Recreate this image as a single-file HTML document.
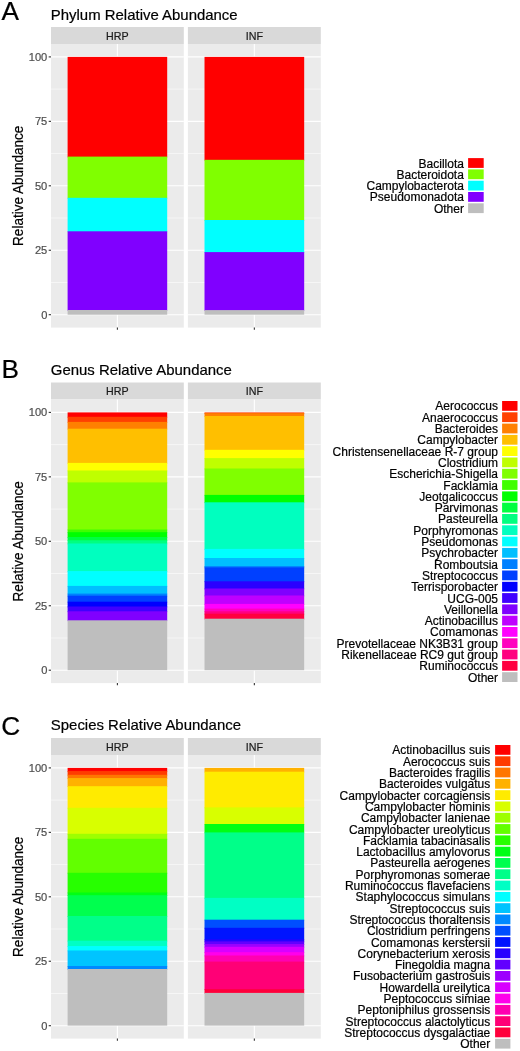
<!DOCTYPE html>
<html><head><meta charset="utf-8"><style>
html,body{margin:0;padding:0;background:#fff;}
svg{display:block;will-change:transform;font-family:"Liberation Sans",sans-serif;}
text{stroke-width:0.2px;paint-order:stroke;}
</style></head><body>
<svg width="520" height="1051" viewBox="0 0 520 1051">
<rect width="520" height="1051" fill="#fff"/>
<text x="1.4" y="19.9" font-size="26.2" fill="#000" stroke="#000">A</text>
<text x="50.8" y="19.6" font-size="14.95" fill="#000" stroke="#000">Phylum Relative Abundance</text>
<rect x="51" y="27" width="132.8" height="17" fill="#D9D9D9"/>
<text x="117.4" y="39.6" font-size="10.7" fill="#1A1A1A" stroke="#1A1A1A" text-anchor="middle">HRP</text>
<rect x="51" y="44" width="132.8" height="283.6" fill="#EBEBEB"/>
<line x1="51" x2="183.8" y1="282.47" y2="282.47" stroke="#fff" stroke-width="0.55"/>
<line x1="51" x2="183.8" y1="218.02" y2="218.02" stroke="#fff" stroke-width="0.55"/>
<line x1="51" x2="183.8" y1="153.57" y2="153.57" stroke="#fff" stroke-width="0.55"/>
<line x1="51" x2="183.8" y1="89.12" y2="89.12" stroke="#fff" stroke-width="0.55"/>
<line x1="51" x2="183.8" y1="314.7" y2="314.7" stroke="#fff" stroke-width="1.1"/>
<line x1="51" x2="183.8" y1="250.25" y2="250.25" stroke="#fff" stroke-width="1.1"/>
<line x1="51" x2="183.8" y1="185.8" y2="185.8" stroke="#fff" stroke-width="1.1"/>
<line x1="51" x2="183.8" y1="121.35" y2="121.35" stroke="#fff" stroke-width="1.1"/>
<line x1="51" x2="183.8" y1="56.9" y2="56.9" stroke="#fff" stroke-width="1.1"/>
<line x1="117.4" x2="117.4" y1="44" y2="327.6" stroke="#fff" stroke-width="1.1"/>
<rect x="67.6" y="56.9" width="99.6" height="100.5" fill="#FF0000"/>
<rect x="67.6" y="156.6" width="99.6" height="42" fill="#80FF00"/>
<rect x="67.6" y="197.8" width="99.6" height="34.3" fill="#00FFFF"/>
<rect x="67.6" y="231.3" width="99.6" height="79.5" fill="#8000FF"/>
<rect x="67.6" y="310" width="99.6" height="4.7" fill="#BEBEBE"/>
<line x1="117.4" x2="117.4" y1="327.6" y2="329.8" stroke="#333" stroke-width="1.1"/>
<rect x="187.9" y="27" width="132.9" height="17" fill="#D9D9D9"/>
<text x="254.35" y="39.6" font-size="10.7" fill="#1A1A1A" stroke="#1A1A1A" text-anchor="middle">INF</text>
<rect x="187.9" y="44" width="132.9" height="283.6" fill="#EBEBEB"/>
<line x1="187.9" x2="320.8" y1="282.47" y2="282.47" stroke="#fff" stroke-width="0.55"/>
<line x1="187.9" x2="320.8" y1="218.02" y2="218.02" stroke="#fff" stroke-width="0.55"/>
<line x1="187.9" x2="320.8" y1="153.57" y2="153.57" stroke="#fff" stroke-width="0.55"/>
<line x1="187.9" x2="320.8" y1="89.12" y2="89.12" stroke="#fff" stroke-width="0.55"/>
<line x1="187.9" x2="320.8" y1="314.7" y2="314.7" stroke="#fff" stroke-width="1.1"/>
<line x1="187.9" x2="320.8" y1="250.25" y2="250.25" stroke="#fff" stroke-width="1.1"/>
<line x1="187.9" x2="320.8" y1="185.8" y2="185.8" stroke="#fff" stroke-width="1.1"/>
<line x1="187.9" x2="320.8" y1="121.35" y2="121.35" stroke="#fff" stroke-width="1.1"/>
<line x1="187.9" x2="320.8" y1="56.9" y2="56.9" stroke="#fff" stroke-width="1.1"/>
<line x1="254.35" x2="254.35" y1="44" y2="327.6" stroke="#fff" stroke-width="1.1"/>
<rect x="204.51" y="56.9" width="99.68" height="103.7" fill="#FF0000"/>
<rect x="204.51" y="159.8" width="99.68" height="61" fill="#80FF00"/>
<rect x="204.51" y="220" width="99.68" height="32.9" fill="#00FFFF"/>
<rect x="204.51" y="252.1" width="99.68" height="58.8" fill="#8000FF"/>
<rect x="204.51" y="310.1" width="99.68" height="4.6" fill="#BEBEBE"/>
<line x1="254.35" x2="254.35" y1="327.6" y2="329.8" stroke="#333" stroke-width="1.1"/>
<line x1="48.7" x2="51" y1="314.7" y2="314.7" stroke="#333" stroke-width="1.1"/>
<text x="47.3" y="318.55" font-size="11.1" fill="#4D4D4D" stroke="#4D4D4D" text-anchor="end">0</text>
<line x1="48.7" x2="51" y1="250.25" y2="250.25" stroke="#333" stroke-width="1.1"/>
<text x="47.3" y="254.1" font-size="11.1" fill="#4D4D4D" stroke="#4D4D4D" text-anchor="end">25</text>
<line x1="48.7" x2="51" y1="185.8" y2="185.8" stroke="#333" stroke-width="1.1"/>
<text x="47.3" y="189.65" font-size="11.1" fill="#4D4D4D" stroke="#4D4D4D" text-anchor="end">50</text>
<line x1="48.7" x2="51" y1="121.35" y2="121.35" stroke="#333" stroke-width="1.1"/>
<text x="47.3" y="125.2" font-size="11.1" fill="#4D4D4D" stroke="#4D4D4D" text-anchor="end">75</text>
<line x1="48.7" x2="51" y1="56.9" y2="56.9" stroke="#333" stroke-width="1.1"/>
<text x="47.3" y="60.75" font-size="11.1" fill="#4D4D4D" stroke="#4D4D4D" text-anchor="end">100</text>
<text transform="translate(23.1,185.8) rotate(-90)" font-size="14.4" fill="#000" stroke="#000" text-anchor="middle" textLength="120.2" lengthAdjust="spacingAndGlyphs">Relative Abundance</text>
<rect x="468.1" y="158.1" width="15.6" height="9.8" fill="#FF0000"/>
<text x="463.9" y="167.5" font-size="12" fill="#000" stroke="#000" text-anchor="end">Bacillota</text>
<rect x="468.1" y="169.4" width="15.6" height="9.8" fill="#80FF00"/>
<text x="463.9" y="178.8" font-size="12" fill="#000" stroke="#000" text-anchor="end">Bacteroidota</text>
<rect x="468.1" y="180.7" width="15.6" height="9.8" fill="#00FFFF"/>
<text x="463.9" y="190.1" font-size="12" fill="#000" stroke="#000" text-anchor="end">Campylobacterota</text>
<rect x="468.1" y="192" width="15.6" height="9.8" fill="#8000FF"/>
<text x="463.9" y="201.4" font-size="12" fill="#000" stroke="#000" text-anchor="end">Pseudomonadota</text>
<rect x="468.1" y="203.3" width="15.6" height="9.8" fill="#BEBEBE"/>
<text x="463.9" y="212.7" font-size="12" fill="#000" stroke="#000" text-anchor="end">Other</text>
<text x="1.6" y="377.7" font-size="26.2" fill="#000" stroke="#000">B</text>
<text x="50.8" y="374.6" font-size="14.95" fill="#000" stroke="#000">Genus Relative Abundance</text>
<rect x="51" y="382.5" width="132.8" height="17" fill="#D9D9D9"/>
<text x="117.4" y="395.1" font-size="10.7" fill="#1A1A1A" stroke="#1A1A1A" text-anchor="middle">HRP</text>
<rect x="51" y="399.5" width="132.8" height="283.6" fill="#EBEBEB"/>
<line x1="51" x2="183.8" y1="637.98" y2="637.98" stroke="#fff" stroke-width="0.55"/>
<line x1="51" x2="183.8" y1="573.52" y2="573.52" stroke="#fff" stroke-width="0.55"/>
<line x1="51" x2="183.8" y1="509.07" y2="509.07" stroke="#fff" stroke-width="0.55"/>
<line x1="51" x2="183.8" y1="444.62" y2="444.62" stroke="#fff" stroke-width="0.55"/>
<line x1="51" x2="183.8" y1="670.2" y2="670.2" stroke="#fff" stroke-width="1.1"/>
<line x1="51" x2="183.8" y1="605.75" y2="605.75" stroke="#fff" stroke-width="1.1"/>
<line x1="51" x2="183.8" y1="541.3" y2="541.3" stroke="#fff" stroke-width="1.1"/>
<line x1="51" x2="183.8" y1="476.85" y2="476.85" stroke="#fff" stroke-width="1.1"/>
<line x1="51" x2="183.8" y1="412.4" y2="412.4" stroke="#fff" stroke-width="1.1"/>
<line x1="117.4" x2="117.4" y1="399.5" y2="683.1" stroke="#fff" stroke-width="1.1"/>
<rect x="67.6" y="412.4" width="99.6" height="5.2" fill="#FF0000"/>
<rect x="67.6" y="416.8" width="99.6" height="5.9" fill="#FF4000"/>
<rect x="67.6" y="421.9" width="99.6" height="7.6" fill="#FF8000"/>
<rect x="67.6" y="428.7" width="99.6" height="35" fill="#FFBF00"/>
<rect x="67.6" y="462.9" width="99.6" height="8.4" fill="#FFFF00"/>
<rect x="67.6" y="470.5" width="99.6" height="12.7" fill="#BFFF00"/>
<rect x="67.6" y="482.4" width="99.6" height="47.9" fill="#80FF00"/>
<rect x="67.6" y="529.5" width="99.6" height="3.5" fill="#40FF00"/>
<rect x="67.6" y="532.2" width="99.6" height="5.6" fill="#00FF00"/>
<rect x="67.6" y="537" width="99.6" height="4.1" fill="#00FF40"/>
<rect x="67.6" y="540.3" width="99.6" height="4" fill="#00FF80"/>
<rect x="67.6" y="543.5" width="99.6" height="28.4" fill="#00FFBF"/>
<rect x="67.6" y="571.1" width="99.6" height="15.6" fill="#00FFFF"/>
<rect x="67.6" y="585.9" width="99.6" height="8.5" fill="#00BFFF"/>
<rect x="67.6" y="593.6" width="99.6" height="2.9" fill="#0080FF"/>
<rect x="67.6" y="595.7" width="99.6" height="6.8" fill="#0040FF"/>
<rect x="67.6" y="601.7" width="99.6" height="5.6" fill="#0000FF"/>
<rect x="67.6" y="606.5" width="99.6" height="5.6" fill="#4000FF"/>
<rect x="67.6" y="611.3" width="99.6" height="9.8" fill="#8000FF"/>
<rect x="67.6" y="620.3" width="99.6" height="49.9" fill="#BEBEBE"/>
<line x1="117.4" x2="117.4" y1="683.1" y2="685.3" stroke="#333" stroke-width="1.1"/>
<rect x="187.9" y="382.5" width="132.9" height="17" fill="#D9D9D9"/>
<text x="254.35" y="395.1" font-size="10.7" fill="#1A1A1A" stroke="#1A1A1A" text-anchor="middle">INF</text>
<rect x="187.9" y="399.5" width="132.9" height="283.6" fill="#EBEBEB"/>
<line x1="187.9" x2="320.8" y1="637.98" y2="637.98" stroke="#fff" stroke-width="0.55"/>
<line x1="187.9" x2="320.8" y1="573.52" y2="573.52" stroke="#fff" stroke-width="0.55"/>
<line x1="187.9" x2="320.8" y1="509.07" y2="509.07" stroke="#fff" stroke-width="0.55"/>
<line x1="187.9" x2="320.8" y1="444.62" y2="444.62" stroke="#fff" stroke-width="0.55"/>
<line x1="187.9" x2="320.8" y1="670.2" y2="670.2" stroke="#fff" stroke-width="1.1"/>
<line x1="187.9" x2="320.8" y1="605.75" y2="605.75" stroke="#fff" stroke-width="1.1"/>
<line x1="187.9" x2="320.8" y1="541.3" y2="541.3" stroke="#fff" stroke-width="1.1"/>
<line x1="187.9" x2="320.8" y1="476.85" y2="476.85" stroke="#fff" stroke-width="1.1"/>
<line x1="187.9" x2="320.8" y1="412.4" y2="412.4" stroke="#fff" stroke-width="1.1"/>
<line x1="254.35" x2="254.35" y1="399.5" y2="683.1" stroke="#fff" stroke-width="1.1"/>
<rect x="204.51" y="412.4" width="99.68" height="1.6" fill="#FF4000"/>
<rect x="204.51" y="413.2" width="99.68" height="3.6" fill="#FF8000"/>
<rect x="204.51" y="416" width="99.68" height="34.6" fill="#FFBF00"/>
<rect x="204.51" y="449.8" width="99.68" height="9.1" fill="#FFFF00"/>
<rect x="204.51" y="458.1" width="99.68" height="11.2" fill="#BFFF00"/>
<rect x="204.51" y="468.5" width="99.68" height="27.2" fill="#80FF00"/>
<rect x="204.51" y="494.9" width="99.68" height="8.2" fill="#00FF00"/>
<rect x="204.51" y="502.3" width="99.68" height="47.4" fill="#00FFBF"/>
<rect x="204.51" y="548.9" width="99.68" height="9.9" fill="#00FFFF"/>
<rect x="204.51" y="558" width="99.68" height="8.9" fill="#00BFFF"/>
<rect x="204.51" y="566.1" width="99.68" height="2.1" fill="#0080FF"/>
<rect x="204.51" y="567.4" width="99.68" height="14.7" fill="#0040FF"/>
<rect x="204.51" y="581.3" width="99.68" height="8" fill="#2A00FF"/>
<rect x="204.51" y="588.5" width="99.68" height="7.8" fill="#8000FF"/>
<rect x="204.51" y="595.5" width="99.68" height="9.2" fill="#BF00FF"/>
<rect x="204.51" y="603.9" width="99.68" height="5.5" fill="#FF00FF"/>
<rect x="204.51" y="608.6" width="99.68" height="3.5" fill="#FF00BF"/>
<rect x="204.51" y="611.3" width="99.68" height="3.2" fill="#FF0080"/>
<rect x="204.51" y="613.7" width="99.68" height="5.8" fill="#FF0040"/>
<rect x="204.51" y="618.7" width="99.68" height="51.5" fill="#BEBEBE"/>
<line x1="254.35" x2="254.35" y1="683.1" y2="685.3" stroke="#333" stroke-width="1.1"/>
<line x1="48.7" x2="51" y1="670.2" y2="670.2" stroke="#333" stroke-width="1.1"/>
<text x="47.3" y="674.05" font-size="11.1" fill="#4D4D4D" stroke="#4D4D4D" text-anchor="end">0</text>
<line x1="48.7" x2="51" y1="605.75" y2="605.75" stroke="#333" stroke-width="1.1"/>
<text x="47.3" y="609.6" font-size="11.1" fill="#4D4D4D" stroke="#4D4D4D" text-anchor="end">25</text>
<line x1="48.7" x2="51" y1="541.3" y2="541.3" stroke="#333" stroke-width="1.1"/>
<text x="47.3" y="545.15" font-size="11.1" fill="#4D4D4D" stroke="#4D4D4D" text-anchor="end">50</text>
<line x1="48.7" x2="51" y1="476.85" y2="476.85" stroke="#333" stroke-width="1.1"/>
<text x="47.3" y="480.7" font-size="11.1" fill="#4D4D4D" stroke="#4D4D4D" text-anchor="end">75</text>
<line x1="48.7" x2="51" y1="412.4" y2="412.4" stroke="#333" stroke-width="1.1"/>
<text x="47.3" y="416.25" font-size="11.1" fill="#4D4D4D" stroke="#4D4D4D" text-anchor="end">100</text>
<text transform="translate(23.1,541.3) rotate(-90)" font-size="14.4" fill="#000" stroke="#000" text-anchor="middle" textLength="120.2" lengthAdjust="spacingAndGlyphs">Relative Abundance</text>
<rect x="502.1" y="401" width="15.4" height="9.8" fill="#FF0000"/>
<text x="498" y="410.4" font-size="12" fill="#000" stroke="#000" text-anchor="end">Aerococcus</text>
<rect x="502.1" y="412.3" width="15.4" height="9.8" fill="#FF4000"/>
<text x="498" y="421.7" font-size="12" fill="#000" stroke="#000" text-anchor="end">Anaerococcus</text>
<rect x="502.1" y="423.6" width="15.4" height="9.8" fill="#FF8000"/>
<text x="498" y="433" font-size="12" fill="#000" stroke="#000" text-anchor="end">Bacteroides</text>
<rect x="502.1" y="434.9" width="15.4" height="9.8" fill="#FFBF00"/>
<text x="498" y="444.3" font-size="12" fill="#000" stroke="#000" text-anchor="end">Campylobacter</text>
<rect x="502.1" y="446.2" width="15.4" height="9.8" fill="#FFFF00"/>
<text x="498" y="455.6" font-size="12" fill="#000" stroke="#000" text-anchor="end">Christensenellaceae R-7 group</text>
<rect x="502.1" y="457.5" width="15.4" height="9.8" fill="#BFFF00"/>
<text x="498" y="466.9" font-size="12" fill="#000" stroke="#000" text-anchor="end">Clostridium</text>
<rect x="502.1" y="468.8" width="15.4" height="9.8" fill="#80FF00"/>
<text x="498" y="478.2" font-size="12" fill="#000" stroke="#000" text-anchor="end">Escherichia-Shigella</text>
<rect x="502.1" y="480.1" width="15.4" height="9.8" fill="#40FF00"/>
<text x="498" y="489.5" font-size="12" fill="#000" stroke="#000" text-anchor="end">Facklamia</text>
<rect x="502.1" y="491.4" width="15.4" height="9.8" fill="#00FF00"/>
<text x="498" y="500.8" font-size="12" fill="#000" stroke="#000" text-anchor="end">Jeotgalicoccus</text>
<rect x="502.1" y="502.7" width="15.4" height="9.8" fill="#00FF40"/>
<text x="498" y="512.1" font-size="12" fill="#000" stroke="#000" text-anchor="end">Parvimonas</text>
<rect x="502.1" y="514" width="15.4" height="9.8" fill="#00FF80"/>
<text x="498" y="523.4" font-size="12" fill="#000" stroke="#000" text-anchor="end">Pasteurella</text>
<rect x="502.1" y="525.3" width="15.4" height="9.8" fill="#00FFBF"/>
<text x="498" y="534.7" font-size="12" fill="#000" stroke="#000" text-anchor="end">Porphyromonas</text>
<rect x="502.1" y="536.6" width="15.4" height="9.8" fill="#00FFFF"/>
<text x="498" y="546" font-size="12" fill="#000" stroke="#000" text-anchor="end">Pseudomonas</text>
<rect x="502.1" y="547.9" width="15.4" height="9.8" fill="#00BFFF"/>
<text x="498" y="557.3" font-size="12" fill="#000" stroke="#000" text-anchor="end">Psychrobacter</text>
<rect x="502.1" y="559.2" width="15.4" height="9.8" fill="#0080FF"/>
<text x="498" y="568.6" font-size="12" fill="#000" stroke="#000" text-anchor="end">Romboutsia</text>
<rect x="502.1" y="570.5" width="15.4" height="9.8" fill="#0040FF"/>
<text x="498" y="579.9" font-size="12" fill="#000" stroke="#000" text-anchor="end">Streptococcus</text>
<rect x="502.1" y="581.8" width="15.4" height="9.8" fill="#0000FF"/>
<text x="498" y="591.2" font-size="12" fill="#000" stroke="#000" text-anchor="end">Terrisporobacter</text>
<rect x="502.1" y="593.1" width="15.4" height="9.8" fill="#4000FF"/>
<text x="498" y="602.5" font-size="12" fill="#000" stroke="#000" text-anchor="end">UCG-005</text>
<rect x="502.1" y="604.4" width="15.4" height="9.8" fill="#8000FF"/>
<text x="498" y="613.8" font-size="12" fill="#000" stroke="#000" text-anchor="end">Veillonella</text>
<rect x="502.1" y="615.7" width="15.4" height="9.8" fill="#BF00FF"/>
<text x="498" y="625.1" font-size="12" fill="#000" stroke="#000" text-anchor="end">Actinobacillus</text>
<rect x="502.1" y="627" width="15.4" height="9.8" fill="#FF00FF"/>
<text x="498" y="636.4" font-size="12" fill="#000" stroke="#000" text-anchor="end">Comamonas</text>
<rect x="502.1" y="638.3" width="15.4" height="9.8" fill="#FF00BF"/>
<text x="498" y="647.7" font-size="12" fill="#000" stroke="#000" text-anchor="end">Prevotellaceae NK3B31 group</text>
<rect x="502.1" y="649.6" width="15.4" height="9.8" fill="#FF0080"/>
<text x="498" y="659" font-size="12" fill="#000" stroke="#000" text-anchor="end">Rikenellaceae RC9 gut group</text>
<rect x="502.1" y="660.9" width="15.4" height="9.8" fill="#FF0040"/>
<text x="498" y="670.3" font-size="12" fill="#000" stroke="#000" text-anchor="end">Ruminococcus</text>
<rect x="502.1" y="672.2" width="15.4" height="9.8" fill="#BEBEBE"/>
<text x="498" y="681.6" font-size="12" fill="#000" stroke="#000" text-anchor="end">Other</text>
<text x="1.3" y="735.3" font-size="26.2" fill="#000" stroke="#000">C</text>
<text x="50.8" y="729.6" font-size="14.95" fill="#000" stroke="#000">Species Relative Abundance</text>
<rect x="51" y="738" width="132.8" height="17" fill="#D9D9D9"/>
<text x="117.4" y="750.6" font-size="10.7" fill="#1A1A1A" stroke="#1A1A1A" text-anchor="middle">HRP</text>
<rect x="51" y="755" width="132.8" height="283.6" fill="#EBEBEB"/>
<line x1="51" x2="183.8" y1="993.48" y2="993.48" stroke="#fff" stroke-width="0.55"/>
<line x1="51" x2="183.8" y1="929.02" y2="929.02" stroke="#fff" stroke-width="0.55"/>
<line x1="51" x2="183.8" y1="864.58" y2="864.58" stroke="#fff" stroke-width="0.55"/>
<line x1="51" x2="183.8" y1="800.12" y2="800.12" stroke="#fff" stroke-width="0.55"/>
<line x1="51" x2="183.8" y1="1025.7" y2="1025.7" stroke="#fff" stroke-width="1.1"/>
<line x1="51" x2="183.8" y1="961.25" y2="961.25" stroke="#fff" stroke-width="1.1"/>
<line x1="51" x2="183.8" y1="896.8" y2="896.8" stroke="#fff" stroke-width="1.1"/>
<line x1="51" x2="183.8" y1="832.35" y2="832.35" stroke="#fff" stroke-width="1.1"/>
<line x1="51" x2="183.8" y1="767.9" y2="767.9" stroke="#fff" stroke-width="1.1"/>
<line x1="117.4" x2="117.4" y1="755" y2="1038.6" stroke="#fff" stroke-width="1.1"/>
<rect x="67.6" y="767.9" width="99.6" height="4" fill="#FF0000"/>
<rect x="67.6" y="771.1" width="99.6" height="4.5" fill="#FF3B00"/>
<rect x="67.6" y="774.8" width="99.6" height="4.1" fill="#FF7600"/>
<rect x="67.6" y="778.1" width="99.6" height="8.9" fill="#FFB100"/>
<rect x="67.6" y="786.2" width="99.6" height="22.4" fill="#FFEB00"/>
<rect x="67.6" y="807.8" width="99.6" height="26.8" fill="#D8FF00"/>
<rect x="67.6" y="833.8" width="99.6" height="5.8" fill="#9DFF00"/>
<rect x="67.6" y="838.8" width="99.6" height="34.8" fill="#62FF00"/>
<rect x="67.6" y="872.8" width="99.6" height="20.5" fill="#27FF00"/>
<rect x="67.6" y="892.5" width="99.6" height="3.5" fill="#00FF14"/>
<rect x="67.6" y="895.2" width="99.6" height="21.6" fill="#00FF4E"/>
<rect x="67.6" y="916" width="99.6" height="25.5" fill="#00FF89"/>
<rect x="67.6" y="940.7" width="99.6" height="6.2" fill="#00FFC4"/>
<rect x="67.6" y="946.1" width="99.6" height="5.2" fill="#00FFFF"/>
<rect x="67.6" y="950.5" width="99.6" height="16.3" fill="#00C4FF"/>
<rect x="67.6" y="966" width="99.6" height="3.8" fill="#0089FF"/>
<rect x="67.6" y="969" width="99.6" height="56.6" fill="#BEBEBE"/>
<line x1="117.4" x2="117.4" y1="1038.6" y2="1040.8" stroke="#333" stroke-width="1.1"/>
<rect x="187.9" y="738" width="132.9" height="17" fill="#D9D9D9"/>
<text x="254.35" y="750.6" font-size="10.7" fill="#1A1A1A" stroke="#1A1A1A" text-anchor="middle">INF</text>
<rect x="187.9" y="755" width="132.9" height="283.6" fill="#EBEBEB"/>
<line x1="187.9" x2="320.8" y1="993.48" y2="993.48" stroke="#fff" stroke-width="0.55"/>
<line x1="187.9" x2="320.8" y1="929.02" y2="929.02" stroke="#fff" stroke-width="0.55"/>
<line x1="187.9" x2="320.8" y1="864.58" y2="864.58" stroke="#fff" stroke-width="0.55"/>
<line x1="187.9" x2="320.8" y1="800.12" y2="800.12" stroke="#fff" stroke-width="0.55"/>
<line x1="187.9" x2="320.8" y1="1025.7" y2="1025.7" stroke="#fff" stroke-width="1.1"/>
<line x1="187.9" x2="320.8" y1="961.25" y2="961.25" stroke="#fff" stroke-width="1.1"/>
<line x1="187.9" x2="320.8" y1="896.8" y2="896.8" stroke="#fff" stroke-width="1.1"/>
<line x1="187.9" x2="320.8" y1="832.35" y2="832.35" stroke="#fff" stroke-width="1.1"/>
<line x1="187.9" x2="320.8" y1="767.9" y2="767.9" stroke="#fff" stroke-width="1.1"/>
<line x1="254.35" x2="254.35" y1="755" y2="1038.6" stroke="#fff" stroke-width="1.1"/>
<rect x="204.51" y="767.9" width="99.68" height="4.6" fill="#FFB100"/>
<rect x="204.51" y="771.7" width="99.68" height="36.5" fill="#FFEB00"/>
<rect x="204.51" y="807.4" width="99.68" height="17.4" fill="#D8FF00"/>
<rect x="204.51" y="824" width="99.68" height="9.2" fill="#00FF14"/>
<rect x="204.51" y="832.4" width="99.68" height="66.3" fill="#00FF89"/>
<rect x="204.51" y="897.9" width="99.68" height="22.6" fill="#00FFC4"/>
<rect x="204.51" y="919.7" width="99.68" height="8.9" fill="#004EFF"/>
<rect x="204.51" y="927.8" width="99.68" height="12.4" fill="#0014FF"/>
<rect x="204.51" y="939.4" width="99.68" height="2.8" fill="#2700FF"/>
<rect x="204.51" y="941.4" width="99.68" height="3.5" fill="#6200FF"/>
<rect x="204.51" y="944.1" width="99.68" height="3.5" fill="#9D00FF"/>
<rect x="204.51" y="946.8" width="99.68" height="6.2" fill="#D800FF"/>
<rect x="204.51" y="952.2" width="99.68" height="4.1" fill="#FF00EB"/>
<rect x="204.51" y="955.5" width="99.68" height="6.9" fill="#FF00B1"/>
<rect x="204.51" y="961.6" width="99.68" height="28.4" fill="#FF0076"/>
<rect x="204.51" y="989.2" width="99.68" height="4.5" fill="#FF003B"/>
<rect x="204.51" y="992.9" width="99.68" height="32.7" fill="#BEBEBE"/>
<line x1="254.35" x2="254.35" y1="1038.6" y2="1040.8" stroke="#333" stroke-width="1.1"/>
<line x1="48.7" x2="51" y1="1025.7" y2="1025.7" stroke="#333" stroke-width="1.1"/>
<text x="47.3" y="1029.55" font-size="11.1" fill="#4D4D4D" stroke="#4D4D4D" text-anchor="end">0</text>
<line x1="48.7" x2="51" y1="961.25" y2="961.25" stroke="#333" stroke-width="1.1"/>
<text x="47.3" y="965.1" font-size="11.1" fill="#4D4D4D" stroke="#4D4D4D" text-anchor="end">25</text>
<line x1="48.7" x2="51" y1="896.8" y2="896.8" stroke="#333" stroke-width="1.1"/>
<text x="47.3" y="900.65" font-size="11.1" fill="#4D4D4D" stroke="#4D4D4D" text-anchor="end">50</text>
<line x1="48.7" x2="51" y1="832.35" y2="832.35" stroke="#333" stroke-width="1.1"/>
<text x="47.3" y="836.2" font-size="11.1" fill="#4D4D4D" stroke="#4D4D4D" text-anchor="end">75</text>
<line x1="48.7" x2="51" y1="767.9" y2="767.9" stroke="#333" stroke-width="1.1"/>
<text x="47.3" y="771.75" font-size="11.1" fill="#4D4D4D" stroke="#4D4D4D" text-anchor="end">100</text>
<text transform="translate(23.1,896.8) rotate(-90)" font-size="14.4" fill="#000" stroke="#000" text-anchor="middle" textLength="120.2" lengthAdjust="spacingAndGlyphs">Relative Abundance</text>
<rect x="495.1" y="745" width="15.3" height="9.8" fill="#FF0000"/>
<text x="490.3" y="754.4" font-size="12" fill="#000" stroke="#000" text-anchor="end">Actinobacillus suis</text>
<rect x="495.1" y="756.3" width="15.3" height="9.8" fill="#FF3B00"/>
<text x="490.3" y="765.7" font-size="12" fill="#000" stroke="#000" text-anchor="end">Aerococcus suis</text>
<rect x="495.1" y="767.6" width="15.3" height="9.8" fill="#FF7600"/>
<text x="490.3" y="777" font-size="12" fill="#000" stroke="#000" text-anchor="end">Bacteroides fragilis</text>
<rect x="495.1" y="778.9" width="15.3" height="9.8" fill="#FFB100"/>
<text x="490.3" y="788.3" font-size="12" fill="#000" stroke="#000" text-anchor="end">Bacteroides vulgatus</text>
<rect x="495.1" y="790.2" width="15.3" height="9.8" fill="#FFEB00"/>
<text x="490.3" y="799.6" font-size="12" fill="#000" stroke="#000" text-anchor="end">Campylobacter corcagiensis</text>
<rect x="495.1" y="801.5" width="15.3" height="9.8" fill="#D8FF00"/>
<text x="490.3" y="810.9" font-size="12" fill="#000" stroke="#000" text-anchor="end">Campylobacter hominis</text>
<rect x="495.1" y="812.8" width="15.3" height="9.8" fill="#9DFF00"/>
<text x="490.3" y="822.2" font-size="12" fill="#000" stroke="#000" text-anchor="end">Campylobacter lanienae</text>
<rect x="495.1" y="824.1" width="15.3" height="9.8" fill="#62FF00"/>
<text x="490.3" y="833.5" font-size="12" fill="#000" stroke="#000" text-anchor="end">Campylobacter ureolyticus</text>
<rect x="495.1" y="835.4" width="15.3" height="9.8" fill="#27FF00"/>
<text x="490.3" y="844.8" font-size="12" fill="#000" stroke="#000" text-anchor="end">Facklamia tabacinasalis</text>
<rect x="495.1" y="846.7" width="15.3" height="9.8" fill="#00FF14"/>
<text x="490.3" y="856.1" font-size="12" fill="#000" stroke="#000" text-anchor="end">Lactobacillus amylovorus</text>
<rect x="495.1" y="858" width="15.3" height="9.8" fill="#00FF4E"/>
<text x="490.3" y="867.4" font-size="12" fill="#000" stroke="#000" text-anchor="end">Pasteurella aerogenes</text>
<rect x="495.1" y="869.3" width="15.3" height="9.8" fill="#00FF89"/>
<text x="490.3" y="878.7" font-size="12" fill="#000" stroke="#000" text-anchor="end">Porphyromonas somerae</text>
<rect x="495.1" y="880.6" width="15.3" height="9.8" fill="#00FFC4"/>
<text x="490.3" y="890" font-size="12" fill="#000" stroke="#000" text-anchor="end">Ruminococcus flavefaciens</text>
<rect x="495.1" y="891.9" width="15.3" height="9.8" fill="#00FFFF"/>
<text x="490.3" y="901.3" font-size="12" fill="#000" stroke="#000" text-anchor="end">Staphylococcus simulans</text>
<rect x="495.1" y="903.2" width="15.3" height="9.8" fill="#00C4FF"/>
<text x="490.3" y="912.6" font-size="12" fill="#000" stroke="#000" text-anchor="end">Streptococcus suis</text>
<rect x="495.1" y="914.5" width="15.3" height="9.8" fill="#0089FF"/>
<text x="490.3" y="923.9" font-size="12" fill="#000" stroke="#000" text-anchor="end">Streptococcus thoraltensis</text>
<rect x="495.1" y="925.8" width="15.3" height="9.8" fill="#004EFF"/>
<text x="490.3" y="935.2" font-size="12" fill="#000" stroke="#000" text-anchor="end">Clostridium perfringens</text>
<rect x="495.1" y="937.1" width="15.3" height="9.8" fill="#0014FF"/>
<text x="490.3" y="946.5" font-size="12" fill="#000" stroke="#000" text-anchor="end">Comamonas kerstersii</text>
<rect x="495.1" y="948.4" width="15.3" height="9.8" fill="#2700FF"/>
<text x="490.3" y="957.8" font-size="12" fill="#000" stroke="#000" text-anchor="end">Corynebacterium xerosis</text>
<rect x="495.1" y="959.7" width="15.3" height="9.8" fill="#6200FF"/>
<text x="490.3" y="969.1" font-size="12" fill="#000" stroke="#000" text-anchor="end">Finegoldia magna</text>
<rect x="495.1" y="971" width="15.3" height="9.8" fill="#9D00FF"/>
<text x="490.3" y="980.4" font-size="12" fill="#000" stroke="#000" text-anchor="end">Fusobacterium gastrosuis</text>
<rect x="495.1" y="982.3" width="15.3" height="9.8" fill="#D800FF"/>
<text x="490.3" y="991.7" font-size="12" fill="#000" stroke="#000" text-anchor="end">Howardella ureilytica</text>
<rect x="495.1" y="993.6" width="15.3" height="9.8" fill="#FF00EB"/>
<text x="490.3" y="1003" font-size="12" fill="#000" stroke="#000" text-anchor="end">Peptococcus simiae</text>
<rect x="495.1" y="1004.9" width="15.3" height="9.8" fill="#FF00B1"/>
<text x="490.3" y="1014.3" font-size="12" fill="#000" stroke="#000" text-anchor="end">Peptoniphilus grossensis</text>
<rect x="495.1" y="1016.2" width="15.3" height="9.8" fill="#FF0076"/>
<text x="490.3" y="1025.6" font-size="12" fill="#000" stroke="#000" text-anchor="end">Streptococcus alactolyticus</text>
<rect x="495.1" y="1027.5" width="15.3" height="9.8" fill="#FF003B"/>
<text x="490.3" y="1036.9" font-size="12" fill="#000" stroke="#000" text-anchor="end">Streptococcus dysgalactiae</text>
<rect x="495.1" y="1038.8" width="15.3" height="9.8" fill="#BEBEBE"/>
<text x="490.3" y="1048.2" font-size="12" fill="#000" stroke="#000" text-anchor="end">Other</text>
</svg>
</body></html>
